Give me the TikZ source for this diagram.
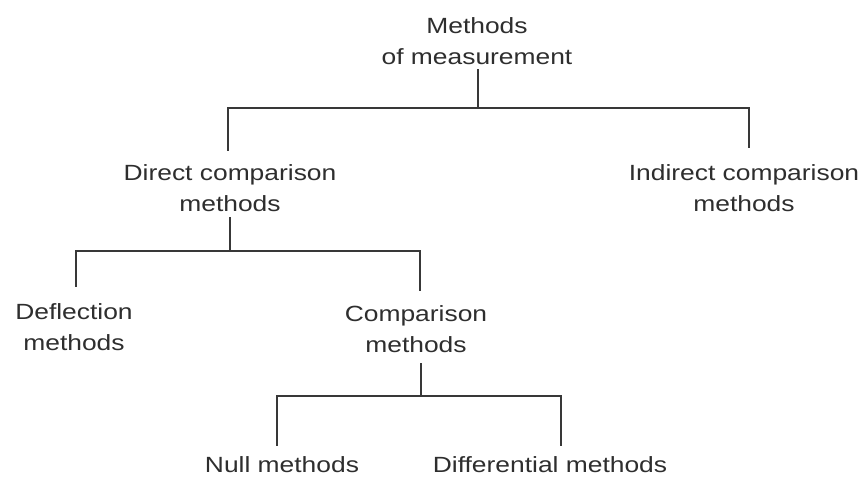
\documentclass[tikz,border=0pt]{standalone}
\usepackage{fontspec}
\setmainfont[FakeStretch=1.2]{Liberation Sans}
\usetikzlibrary{calc}
\begin{document}
\begin{tikzpicture}[x=1pt,y=-1pt,
  lbl/.style={align=center,inner sep=0pt,text=black!82,font=\fontsize{22}{31}\selectfont},
  conn/.style={draw=black!78,line width=1.8pt,line cap=rect}]
\useasboundingbox[fill=white] (0,0) rectangle (860,478);
% nodes
\node[lbl] (root) at (477,41) {Methods\\of measurement};
\node[lbl] (direct) at (230,188) {Direct comparison\\methods};
\node[lbl] (indirect) at (744,188) {Indirect comparison\\methods};
\node[lbl] (deflect) at (74,327) {Deflection\\methods};
\node[lbl] (compar) at (416,329) {Comparison\\methods};
\node[lbl] (null) at (282,465) {Null methods};
\node[lbl] (diff) at (550,465) {Differential methods};
% connector points
\coordinate (r0) at (478,70);
\coordinate (r1) at (478,108);
\coordinate (b1l) at (228,108);
\coordinate (b1r) at (749,108);
\coordinate (e1l) at (228,150);
\coordinate (e1r) at (749,147);
\coordinate (d0) at (230,218);
\coordinate (d1) at (230,251);
\coordinate (b2l) at (76,251);
\coordinate (b2r) at (420,251);
\coordinate (e2l) at (76,286);
\coordinate (e2r) at (420,290);
\coordinate (c0) at (421,364);
\coordinate (c1) at (421,396);
\coordinate (b3l) at (277,396);
\coordinate (b3r) at (561,396);
\coordinate (e3l) at (277,445);
\coordinate (e3r) at (561,445);
% connectors
\draw[conn] (r0) -- (r1);
\draw[conn] (e1l) -- (b1l) -- (b1r) -- (e1r);
\draw[conn] (d0) -- (d1);
\draw[conn] (e2l) -- (b2l) -- (b2r) -- (e2r);
\draw[conn] (c0) -- (c1);
\draw[conn] (e3l) -- (b3l) -- (b3r) -- (e3r);
\end{tikzpicture}
\end{document}
